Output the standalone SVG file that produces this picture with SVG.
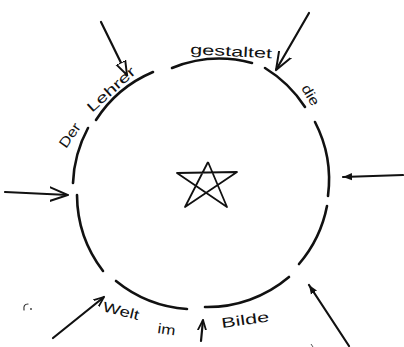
<svg xmlns="http://www.w3.org/2000/svg" width="404" height="347" viewBox="0 0 404 347">
<style>
.seg{fill:none;stroke:#111;stroke-width:2.6;stroke-linecap:round}
.arr{fill:none;stroke:#111;stroke-width:2.2;stroke-linecap:round}
.lbl{font-family:"Liberation Sans","DejaVu Sans",sans-serif;fill:#111;font-size:14px}
</style>
<defs>
<marker id="vbig" viewBox="0 0 10 10" refX="10" refY="5" markerUnits="userSpaceOnUse" markerWidth="18" markerHeight="18" orient="auto">
<path d="M0,1.2 L10,5 L0,8.8" fill="none" stroke="#111" stroke-width="1.1" stroke-linecap="round"/>
</marker>
<marker id="vsmall" viewBox="0 0 10 10" refX="10" refY="5" markerUnits="userSpaceOnUse" markerWidth="10" markerHeight="10" orient="auto">
<path d="M0,1 L10,5 L0,9" fill="none" stroke="#111" stroke-width="1.8" stroke-linecap="round"/>
</marker>
<marker id="tri" viewBox="0 0 10 10" refX="10" refY="5" markerUnits="userSpaceOnUse" markerWidth="14" markerHeight="14" orient="auto">
<path d="M0,1.5 L10,5 L0,8.5 z" fill="#fff" stroke="#111" stroke-width="1.4" stroke-linejoin="round"/>
</marker>
<marker id="fill" viewBox="0 0 10 10" refX="10" refY="5" markerUnits="userSpaceOnUse" markerWidth="9" markerHeight="9" orient="auto">
<path d="M0,1 L10,5 L0,9 z" fill="#111"/>
</marker>
</defs>

<g id="circle">
<path class="seg" d="M73,183 A126,126 0 0 1 88,128"/>
<path class="seg" d="M96,120 A126,126 0 0 1 153,72"/>
<path class="seg" d="M172,68 A126,126 0 0 1 252,63"/>
<path class="seg" d="M265,68 A126,126 0 0 1 305,107"/>
<path class="seg" d="M315,122 A126,126 0 0 1 328,196"/>
<path class="seg" d="M327,206 A126,126 0 0 1 299,264"/>
<path class="seg" d="M289,277 A126,126 0 0 1 205,307"/>
<path class="seg" d="M187,309 A126,126 0 0 1 116,281"/>
<path class="seg" d="M103,271 A126,126 0 0 1 77,195"/>
</g>

<g id="star">
<polyline points="208,162 185,207 237,172 177,173 227,207 208,162" fill="none" stroke="#111" stroke-width="1.8" stroke-linejoin="round"/>
</g>

<g id="labels">
<text class="lbl" x="66" y="149" transform="rotate(-55 66 149)" textLength="27" lengthAdjust="spacingAndGlyphs">Der</text>
<text class="lbl" x="92" y="113" transform="rotate(-42 92 113)" textLength="60" lengthAdjust="spacingAndGlyphs">Lehrer</text>
<text class="lbl" x="190" y="54" transform="rotate(3 190 54)" textLength="82" lengthAdjust="spacingAndGlyphs">gestaltet</text>
<text class="lbl" x="301" y="88" transform="rotate(60 301 88)" textLength="22" lengthAdjust="spacingAndGlyphs">die</text>
<text class="lbl" x="102" y="311" transform="rotate(14 102 311)" font-size="15" textLength="37" lengthAdjust="spacingAndGlyphs">Welt</text>
<text class="lbl" x="157" y="333" transform="rotate(8 157 333)" textLength="18" lengthAdjust="spacingAndGlyphs">im</text>
<text class="lbl" x="222" y="328" transform="rotate(-8 222 328)" font-size="15" textLength="48" lengthAdjust="spacingAndGlyphs">Bilde</text>
</g>

<g id="connectors">
<line class="arr" x1="101" y1="22" x2="127" y2="75" marker-end="url(#tri)"/>
<line class="arr" x1="309" y1="13" x2="276" y2="70" marker-end="url(#vbig)"/>
<line class="arr" x1="5" y1="192" x2="68" y2="195" marker-end="url(#vbig)"/>
<line class="arr" x1="403" y1="175" x2="343" y2="177" marker-end="url(#fill)"/>
<line class="arr" x1="53" y1="338" x2="104" y2="297" marker-end="url(#vsmall)"/>
<line class="arr" x1="349" y1="346" x2="309" y2="285" marker-end="url(#fill)"/>
<line class="arr" x1="201" y1="341" x2="203" y2="320" marker-end="url(#vsmall)"/>
</g>

<g id="marks">
<path d="M24,310 Q23,304 28,304" fill="none" stroke="#333" stroke-width="1.2" stroke-linecap="round"/>
<circle cx="31" cy="309" r="0.9" fill="#333"/>
<path d="M311,344 L313,347" stroke="#555" stroke-width="1" />
</g>
</svg>
